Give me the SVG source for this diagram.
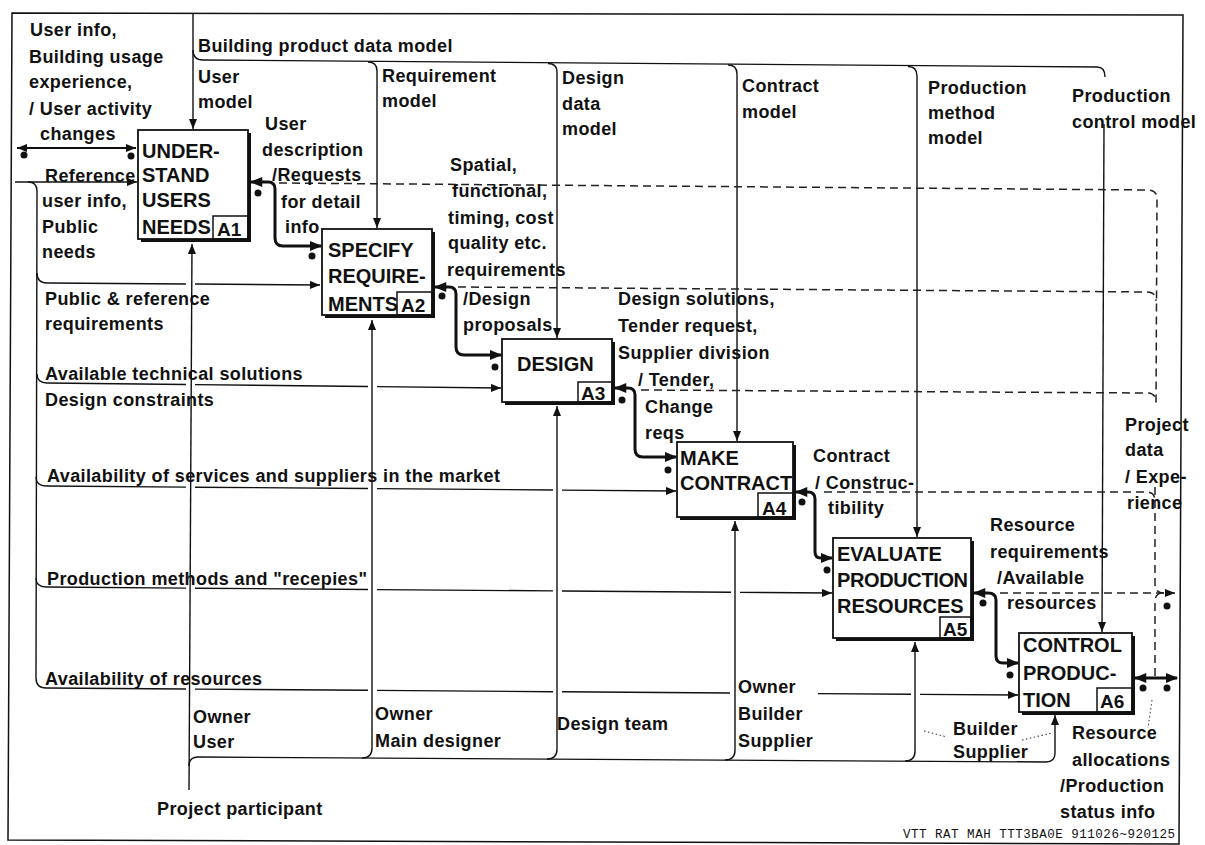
<svg xmlns="http://www.w3.org/2000/svg" width="1205" height="845" viewBox="0 0 1205 845">
  <style>
    .ln{fill:none;stroke:#111;stroke-width:1.4}
    .tk{fill:none;stroke:#111;stroke-width:3;stroke-linejoin:round}
    .ds{fill:none;stroke:#222;stroke-width:1.5;stroke-dasharray:8 5}
    .dt{fill:none;stroke:#444;stroke-width:1.1;stroke-dasharray:1.5 2.5}
    .lb{font-family:"Liberation Sans",Arial,Helvetica,sans-serif;font-size:18px;font-weight:bold;letter-spacing:.4px;fill:#111}
    .bt{font-family:"Liberation Sans",Arial,Helvetica,sans-serif;font-size:20px;font-weight:bold;fill:#111}
    .id{font-family:"Liberation Sans",Arial,Helvetica,sans-serif;font-size:19px;font-weight:bold;fill:#111}
    .sh{fill:#111}
    .bx{fill:#fff;stroke:#111;stroke-width:1.8}
    .ib{fill:none;stroke:#111;stroke-width:1.5}
    .dot{fill:#111}
    .tag{font-family:"Liberation Mono","Courier New",monospace;font-size:12.5px;fill:#111}
  </style>
  <defs>
    <marker id="ar" viewBox="0 0 10 8" refX="10" refY="4" markerWidth="11" markerHeight="8" markerUnits="userSpaceOnUse" orient="auto-start-reverse">
      <path d="M0,0 L10,4 L0,8 Z" fill="#111"/>
    </marker>
    <marker id="art" viewBox="0 0 10 8" refX="9" refY="4" markerWidth="13" markerHeight="10" markerUnits="userSpaceOnUse" orient="auto-start-reverse">
      <path d="M0,0 L10,4 L0,8 Z" fill="#111"/>
    </marker>
  </defs>

  <rect width="1205" height="845" fill="#fff"/>

  <!-- sheet frame -->
  <g id="frame">
    <path d="M12,13 L1183,15 L1179,844 L8,840 Z" fill="none" stroke="#111" stroke-width="1.5"/>
    <text class="tag" x="903" y="838" textLength="272">VTT RAT MAH TTT3BA0E 911026~920125</text>
  </g>

  <g id="connectors">
    <!-- controls from the top -->
    <path class="ln" d="M193,14 V129" marker-end="url(#ar)"/>
    <path class="ln" d="M193,50 Q193,60 203,60 L1097,67 Q1105,67 1105,77"/>
    <path class="ln" d="M368,62 Q377,62 377,71 V228" marker-end="url(#ar)"/>
    <path class="ln" d="M548,63.5 Q557,63.5 557,72 V338" marker-end="url(#ar)"/>
    <path class="ln" d="M728,65 Q737,65 737,74 V441" marker-end="url(#ar)"/>
    <path class="ln" d="M908,66.5 Q917,66.5 917,76 V537" marker-end="url(#ar)"/>
    <path class="ln" d="M1104,124 L1102,632" marker-end="url(#ar)"/>

    <!-- inputs from the left -->
    <path class="ln" style="stroke-width:2" d="M17,148 H136" marker-start="url(#ar)" marker-end="url(#ar)"/>
    <path class="ln" d="M15,182 H137" marker-end="url(#ar)"/>
    <path class="ln" d="M28,182 Q37,182 37,191 L36,678 Q36,688 46,688"/>
    <path class="ln" d="M37,273 Q37,283 47,283 L186,284 M195,284 L320,285" marker-end="url(#ar)"/>
    <path class="ln" d="M37,374 Q37,383 47,383 L186,384.5 M195,384.6 L368,386.5 M377,386.6 L501,388" marker-end="url(#ar)"/>
    <path class="ln" d="M36,477 Q36,486 46,486 L186,487.1 M195,487.2 L368,488.5 M377,488.6 L553,490 M562,490.1 L676,491" marker-end="url(#ar)"/>
    <path class="ln" d="M36,578 Q36,587 46,587 L186,588.1 M195,588.2 L368,589.5 M377,589.6 L553,590.9 M562,591 L731,592.3 M740,592.4 L832,593" marker-end="url(#ar)"/>
    <path class="ln" d="M46,688 L186,689 M195,689.1 L368,690.3 M377,690.4 L553,691.7 M562,691.8 L730,693 M818,693.6 L911,694.3 M920,694.4 L1018,695" marker-end="url(#ar)"/>

    <!-- mechanisms from the bottom -->
    <path class="ln" d="M189,790 L192,244" marker-end="url(#ar)"/>
    <path class="ln" d="M189,766 Q189,757 198,757 L1046,762 Q1055,762 1055,753 V715" marker-end="url(#ar)"/>
    <path class="ln" d="M362,758 Q372,758 372,748 V320" marker-end="url(#ar)"/>
    <path class="ln" d="M547,759 Q557,759 557,749 V406" marker-end="url(#ar)"/>
    <path class="ln" d="M725,760 Q735,760 735,750 V521" marker-end="url(#ar)"/>
    <path class="ln" d="M905,761 Q915,761 915,751 V642" marker-end="url(#ar)"/>

    <!-- outputs between activities -->
    <path class="tk" d="M251,182 H268 Q275,182 275,189 V238 Q275,246 283,246 H321" marker-start="url(#art)" marker-end="url(#art)"/>
    <path class="tk" d="M435,287 H449 Q456,287 456,294 V347 Q456,355 464,355 H501" marker-start="url(#art)" marker-end="url(#art)"/>
    <path class="tk" d="M615,388 H628 Q635,388 635,395 V449 Q635,457 643,457 H676" marker-start="url(#art)" marker-end="url(#art)"/>
    <path class="tk" d="M796,492 H808 Q815,492 815,499 V552 Q815,558 821,558 H832" marker-start="url(#art)" marker-end="url(#art)"/>
    <path class="tk" d="M974,593 H988 Q996,593 996,600 V656 Q996,663 1003,663 H1018" marker-start="url(#art)" marker-end="url(#art)"/>
    <path class="tk" d="M1135,678 H1177" marker-start="url(#art)" marker-end="url(#art)"/>

    <!-- feedback / project data -->
    <path class="ds" d="M279,183 L1148,190 Q1157,190 1157,199 L1156,404 M1155,487 L1155,584 Q1155,593 1164,593"/>
    <path class="ds" d="M458,287 L1147,292 Q1156,292 1156,301"/>
    <path class="ds" d="M641,390 L1147,393 Q1156,393 1156,402"/>
    <path class="ds" d="M824,492 L1146,492 Q1155,492 1155,501"/>
    <path class="ds" d="M1000,593 L1175,593" marker-end="url(#ar)"/>
    <path class="ds" d="M1155,676 L1155,602 Q1155,593 1163,593"/>

    <!-- leader lines -->
    <path class="dt" d="M924,731 L947,737"/>
    <path class="dt" d="M1022,740 L1052,733"/>
    <path class="dt" d="M1152,700 L1148,728"/>

    <!-- arrow dots -->
    <circle class="dot" cx="24" cy="155" r="3.5"/>
    <circle class="dot" cx="131" cy="156" r="3.5"/>
    <circle class="dot" cx="258" cy="193" r="3.5"/>
    <circle class="dot" cx="312" cy="256" r="3.5"/>
    <circle class="dot" cx="442" cy="296" r="3.5"/>
    <circle class="dot" cx="495" cy="367" r="3.5"/>
    <circle class="dot" cx="622" cy="400" r="3.5"/>
    <circle class="dot" cx="668" cy="470" r="3.5"/>
    <circle class="dot" cx="802" cy="502" r="3.5"/>
    <circle class="dot" cx="827" cy="570" r="3.5"/>
    <circle class="dot" cx="983" cy="603" r="3.5"/>
    <circle class="dot" cx="1010" cy="675" r="3.5"/>
    <circle class="dot" cx="1143" cy="688" r="3.5"/>
    <circle class="dot" cx="1167" cy="688" r="3.5"/>
    <circle class="dot" cx="1167" cy="606" r="3.5"/>
  </g>

  <!-- activity boxes -->
  <g id="A1">
    <rect class="sh" x="141" y="133" width="110" height="109"/>
    <rect class="bx" x="138" y="130" width="110" height="109"/>
    <rect class="ib" x="213" y="216" width="35" height="23"/>
    <text class="bt" x="142" y="158">UNDER-</text>
    <text class="bt" x="142" y="182">STAND</text>
    <text class="bt" x="142" y="207">USERS</text>
    <text class="bt" x="142" y="234">NEEDS</text>
    <text class="id" x="217" y="236">A1</text>
  </g>
  <g id="A2">
    <rect class="sh" x="325" y="232" width="110" height="86"/>
    <rect class="bx" x="322" y="229" width="110" height="86"/>
    <rect class="ib" x="397" y="292" width="35" height="23"/>
    <text class="bt" x="328" y="257">SPECIFY</text>
    <text class="bt" x="328" y="283">REQUIRE-</text>
    <text class="bt" x="328" y="311">MENTS</text>
    <text class="id" x="401" y="312">A2</text>
  </g>
  <g id="A3">
    <rect class="sh" x="505" y="342" width="110" height="63"/>
    <rect class="bx" x="502" y="339" width="110" height="63"/>
    <rect class="ib" x="578" y="382" width="34" height="20"/>
    <text class="bt" x="517" y="371">DESIGN</text>
    <text class="id" x="581" y="400">A3</text>
  </g>
  <g id="A4">
    <rect class="sh" x="680" y="445" width="116" height="75"/>
    <rect class="bx" x="677" y="442" width="116" height="75"/>
    <rect class="ib" x="758" y="493" width="35" height="24"/>
    <text class="bt" x="680" y="465">MAKE</text>
    <text class="bt" x="680" y="490">CONTRACT</text>
    <text class="id" x="762" y="515">A4</text>
  </g>
  <g id="A5">
    <rect class="sh" x="836" y="541" width="138" height="100"/>
    <rect class="bx" x="833" y="538" width="138" height="100"/>
    <rect class="ib" x="940" y="617" width="31" height="21"/>
    <text class="bt" x="837" y="561">EVALUATE</text>
    <text class="bt" x="837" y="587" textLength="131">PRODUCTION</text>
    <text class="bt" x="837" y="613">RESOURCES</text>
    <text class="id" x="943" y="636">A5</text>
  </g>
  <g id="A6">
    <rect class="sh" x="1022" y="636" width="113" height="79"/>
    <rect class="bx" x="1019" y="633" width="113" height="79"/>
    <rect class="ib" x="1097" y="688" width="35" height="24"/>
    <text class="bt" x="1023" y="652">CONTROL</text>
    <text class="bt" x="1023" y="680">PRODUC-</text>
    <text class="bt" x="1023" y="707">TION</text>
    <text class="id" x="1100" y="708">A6</text>
  </g>

  <!-- arrow labels -->
  <g id="labels" class="lb">
    <text x="30" y="36">User info,</text>
    <text x="29" y="63">Building usage</text>
    <text x="29" y="88">experience,</text>
    <text x="29" y="115">/ User activity</text>
    <text x="40" y="140">changes</text>

    <text x="198" y="52">Building product data model</text>
    <text x="198" y="83">User</text>
    <text x="198" y="108">model</text>

    <text x="265" y="130">User</text>
    <text x="262" y="156">description</text>
    <text x="272" y="181">/Requests</text>
    <text x="281" y="208">for detail</text>
    <text x="285" y="233">info</text>

    <text x="45" y="182">Reference</text>
    <text x="42" y="207">user info,</text>
    <text x="42" y="233">Public</text>
    <text x="42" y="258">needs</text>

    <text x="382" y="82">Requirement</text>
    <text x="382" y="107">model</text>

    <text x="562" y="84">Design</text>
    <text x="562" y="110">data</text>
    <text x="562" y="135">model</text>

    <text x="742" y="92">Contract</text>
    <text x="742" y="118">model</text>

    <text x="928" y="94">Production</text>
    <text x="928" y="119">method</text>
    <text x="928" y="144">model</text>

    <text x="1072" y="102">Production</text>
    <text x="1072" y="128">control model</text>

    <text x="450" y="171">Spatial,</text>
    <text x="452" y="197">functional,</text>
    <text x="448" y="224">timing, cost</text>
    <text x="448" y="249">quality etc.</text>
    <text x="447" y="276">requirements</text>

    <text x="463" y="305">/Design</text>
    <text x="463" y="331">proposals</text>

    <text x="618" y="305">Design solutions,</text>
    <text x="618" y="332">Tender request,</text>
    <text x="618" y="359">Supplier division</text>
    <text x="638" y="386">/ Tender,</text>
    <text x="645" y="413">Change</text>
    <text x="645" y="439">reqs</text>

    <text x="813" y="462">Contract</text>
    <text x="815" y="489">/ Construc-</text>
    <text x="828" y="514">tibility</text>

    <text x="1125" y="431">Project</text>
    <text x="1125" y="456">data</text>
    <text x="1125" y="483">/ Expe-</text>
    <text x="1127" y="509">rience</text>

    <text x="990" y="531">Resource</text>
    <text x="990" y="558">requirements</text>
    <text x="997" y="584">/Available</text>
    <text x="1007" y="609">resources</text>

    <text x="1072" y="739">Resource</text>
    <text x="1072" y="766">allocations</text>
    <text x="1060" y="792">/Production</text>
    <text x="1060" y="818">status info</text>

    <text x="953" y="735">Builder</text>
    <text x="953" y="758">Supplier</text>

    <text x="45" y="305">Public &amp; reference</text>
    <text x="45" y="330">requirements</text>
    <text x="45" y="380">Available technical solutions</text>
    <text x="45" y="406">Design constraints</text>
    <text x="47" y="482">Availability of services and suppliers in the market</text>
    <text x="47" y="585">Production methods and "recepies"</text>
    <text x="45" y="685">Availability of resources</text>

    <text x="193" y="723">Owner</text>
    <text x="193" y="748">User</text>
    <text x="375" y="720">Owner</text>
    <text x="375" y="747">Main designer</text>
    <text x="557" y="730">Design team</text>
    <text x="738" y="693">Owner</text>
    <text x="738" y="720">Builder</text>
    <text x="738" y="747">Supplier</text>
    <text x="157" y="815">Project participant</text>
  </g>
</svg>
